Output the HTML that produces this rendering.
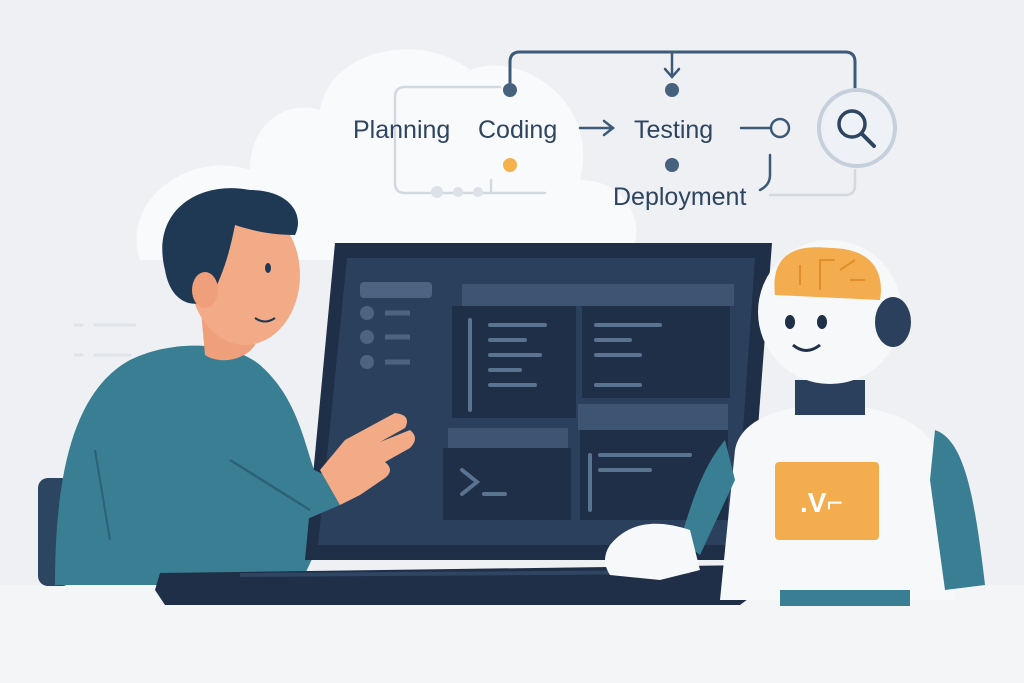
<!DOCTYPE html>
<html><head><style>
html,body{margin:0;padding:0;width:1024px;height:683px;overflow:hidden;background:#eef0f3}
svg{display:block}
text{font-family:"Liberation Sans","DejaVu Sans",sans-serif;fill:#2d4560}
</style></head><body>
<svg width="1024" height="683" viewBox="0 0 1024 683">
<rect width="1024" height="683" fill="#eef0f3"/>
<rect y="585" width="1024" height="98" fill="#f4f5f7"/>
<path d="M140,260 C120,200 190,150 250,170 C250,120 290,100 320,110 C330,50 420,30 470,70 C520,50 600,100 580,180 C640,180 650,250 620,260 Z" fill="#f9fafb"/>
<g fill="none" stroke-linecap="round">
<path d="M510,90 V62 Q510,52 520,52 H845 Q855,52 855,62 V90" stroke="#3d5a78" stroke-width="3"/>
<path d="M672,52 V76 M665,69 L672,77 L679,69" stroke="#3d5a78" stroke-width="2.5"/>
<path d="M500,87 H405 Q395,87 395,97 V183 Q395,193 405,193 H545" stroke="#d3d9e1" stroke-width="2.5"/>
<path d="M491,180 V192" stroke="#d3d9e1" stroke-width="2.5"/>
<path d="M855,170 V185 Q855,195 845,195 H770" stroke="#d3d9e1" stroke-width="2.5"/>
<path d="M770,155 V175 Q770,185 760,190" stroke="#3d5a78" stroke-width="2.5"/>
<path d="M580,128 H612 M604,121 L613,128 L604,135" stroke="#3d5a78" stroke-width="2.5"/>
<path d="M741,128 H771" stroke="#3d5a78" stroke-width="2.5"/>
<circle cx="780" cy="128" r="9" stroke="#3d5a78" stroke-width="2.5" fill="#eef0f3"/>
<circle cx="857" cy="128" r="38" stroke="#c5d0dc" stroke-width="4" fill="#eef2f6"/>
<circle cx="852" cy="124" r="13" stroke="#2d4560" stroke-width="3.5"/>
<path d="M862,134 L874,146" stroke="#2d4560" stroke-width="4"/>
</g>
<circle cx="510" cy="90" r="7" fill="#46627f"/>
<circle cx="672" cy="90" r="7" fill="#46627f"/>
<circle cx="672" cy="165" r="7" fill="#46627f"/>
<circle cx="510" cy="165" r="7" fill="#f4b14c"/>
<circle cx="437" cy="192" r="6" fill="#dde2e8"/><circle cx="458" cy="192" r="5" fill="#dde2e8"/><circle cx="478" cy="192" r="5" fill="#dde2e8"/>
<text x="353" y="138" font-size="25">Planning</text>
<text x="478" y="138" font-size="25">Coding</text>
<text x="634" y="138" font-size="25">Testing</text>
<text x="613" y="205" font-size="25">Deployment</text>
<g stroke="#dfe3e8" stroke-width="3" stroke-linecap="round"><path d="M95,325H135M75,325H82M95,355H130M75,355H82"/></g>
<rect x="38" y="478" width="34" height="108" rx="10" fill="#2c4560"/>
<path d="M55,585 C55,470 75,390 130,360 C170,340 230,340 260,365 C300,400 305,450 318,480 L330,520 L300,585 Z" fill="#3a7e93"/>
<path d="M95,450 L110,540" stroke="#2b6276" stroke-width="2" fill="none"/>
<path d="M200,300 L205,355 C220,365 245,360 255,345 L250,300 Z" fill="#ef9f7a"/>
<ellipse cx="245" cy="275" rx="55" ry="70" fill="#f2ab86"/>
<path d="M165,270 C150,210 200,180 250,190 C290,190 305,215 295,235 C270,235 250,230 235,225 C230,250 225,270 210,300 C190,310 170,300 165,270 Z" fill="#1f3854"/>
<ellipse cx="205" cy="290" rx="13" ry="18" fill="#ef9f7a"/>
<ellipse cx="268" cy="268" rx="3" ry="5" fill="#1f3854"/>
<path d="M255,318 Q265,325 275,318" stroke="#1f3854" stroke-width="2" fill="none"/>
<path d="M335,243 L772,243 L748,560 L305,560 Z" fill="#1e2f47"/>
<path d="M347,258 L755,258 L735,545 L318,545 Z" fill="#2b405c"/>
<rect x="360" y="282" width="72" height="16" rx="4" fill="#4c6482"/>
<g fill="#4c6482"><circle cx="367" cy="313" r="7"/><circle cx="367" cy="337" r="7"/><circle cx="367" cy="362" r="7"/></g>
<g stroke="#4c6482" stroke-width="5"><path d="M385,313H410M385,337H410M385,362H410"/></g>
<rect x="462" y="284" width="272" height="22" fill="#3d5473"/>
<rect x="452" y="306" width="124" height="112" fill="#1e2f47"/>
<rect x="582" y="306" width="148" height="92" fill="#1e2f47"/>
<rect x="578" y="404" width="150" height="26" fill="#3d5473"/>
<rect x="580" y="430" width="148" height="90" fill="#1e2f47"/>
<rect x="448" y="428" width="120" height="20" fill="#3d5473"/>
<rect x="443" y="448" width="128" height="72" fill="#1e2f47"/>
<g stroke="#5a7391" stroke-width="4" stroke-linecap="round" fill="none">
<path d="M470,320V410M490,325H545M490,340H525M490,355H540M490,370H520M490,385H535"/>
<path d="M596,325H660M596,340H630M596,355H640M596,385H640"/>
<path d="M590,455V510M600,455H690M600,470H650"/>
<path d="M462,470L477,482L462,494M484,494H505"/>
</g>
<path d="M160,573 L755,565 L760,590 L740,605 L165,605 L155,590 Z" fill="#1e2f47"/>
<path d="M240,575 L690,572" stroke="#2f4562" stroke-width="4"/>
<path d="M225,400 C260,430 290,460 325,475 L340,505 L305,520 C270,505 235,480 210,455 Z" fill="#3a7e93"/>
<path d="M230,460 L310,510" stroke="#2b6276" stroke-width="2.5" fill="none"/>
<path d="M320,470 L345,440 L395,413 Q412,415 405,428 L380,442 L410,430 Q420,438 410,448 L385,462 Q395,470 385,478 L360,495 L340,505 Z" fill="#f2ab86"/>
<path d="M720,600 L735,450 C740,420 780,405 830,405 C880,405 925,420 935,450 L955,600 Z" fill="#f7f8fa"/>
<path d="M935,430 C965,440 975,500 985,585 L945,590 L930,480 Z" fill="#3a7e93"/>
<path d="M725,440 C700,470 690,510 680,540 L700,555 L735,480 Z" fill="#3a7e93"/>
<rect x="795" y="380" width="70" height="35" fill="#2b405c"/>
<rect x="780" y="590" width="130" height="16" fill="#3a7e93"/>
<circle cx="830" cy="312" r="72" fill="#f7f8fa"/>
<path d="M775,295 C770,250 800,245 830,248 C870,248 885,270 880,300 Z" fill="#f4ad4e"/>
<g stroke="#e28e2a" stroke-width="2" fill="none"><path d="M800,285V265M820,290V260H835M850,280H865M840,270L855,260"/></g>
<ellipse cx="893" cy="322" rx="18" ry="25" fill="#2b405c"/>
<ellipse cx="790" cy="322" rx="5" ry="7" fill="#1e2f47"/>
<ellipse cx="822" cy="322" rx="5" ry="7" fill="#1e2f47"/>
<path d="M793,345 Q806,356 820,345" stroke="#1e2f47" stroke-width="3" fill="none"/>
<rect x="775" y="462" width="104" height="78" rx="4" fill="#f4ad4e"/>
<text x="800" y="512" font-size="28" style="fill:#fff" font-weight="bold">.V⌐</text>
<path d="M610,545 C630,520 660,520 690,530 L700,570 L660,580 L610,575 Q600,560 610,545 Z" fill="#f7f8fa"/>
</svg>
</body></html>
